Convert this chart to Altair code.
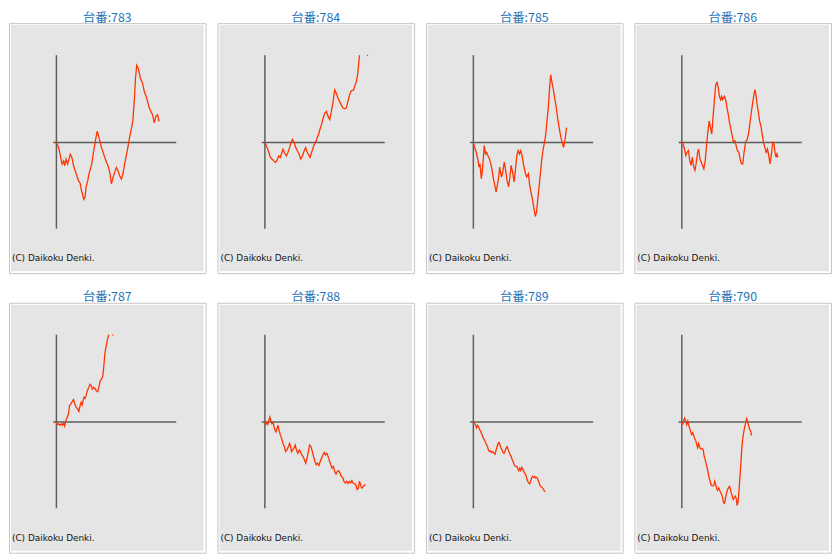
import altair as alt
import pandas as pd

# ---- data: one line per machine (x = progress, y = ball difference) ----
PANELS = ["783", "784", "785", "786", "787", "788", "789", "790"]

X_783 = [0, 2.3, 4, 5.7, 7.3, 8.3, 9.7, 11.3, 12.3, 14, 15.7, 17.3, 19, 20.7, 22.3, 24, 25, 26.3, 27.7, 29, 30, 31.7, 33, 34.3, 35.7, 36.7, 38.3, 40, 41.3, 42.3, 44, 45.7, 47.3, 49, 50.7, 52.3, 54, 55.7, 57.3, 59, 60.7, 62.3, 64, 65.7, 67.3, 69, 70.7, 72.3, 74, 75.7, 77.3, 79, 80, 81.3, 83, 85, 87.3, 89, 91, 92.3, 94, 95.7, 97.3, 99, 100.7, 102.3, 104]
Y_783 = [0, -5.3, -13.7, -22, -18.7, -23.7, -17, -22, -18.7, -12, -15.3, -23.7, -28.7, -33.7, -38.7, -41.3, -47, -52, -57.7, -55.3, -45.3, -38.7, -32, -27, -22, -15.3, -5.3, 4.7, 11.3, 8, 1.3, -5.3, -10.3, -15.3, -20.3, -23.7, -30.3, -42, -35.3, -30.3, -25.3, -28.7, -33.7, -37, -32, -22, -13.7, -5.3, 4.7, 13, 21.3, 44.7, 64.7, 78, 74.7, 64.7, 59.7, 51.3, 46.3, 41.3, 34.7, 31.3, 28, 19.7, 26.3, 28, 21.3]

X_784 = [0, 2.3, 4, 5.7, 7.3, 9, 10.7, 12.3, 14, 15.7, 16.7, 18.3, 19.7, 21.7, 23.3, 25, 26.3, 28, 29.7, 31.3, 33, 34.7, 36.3, 38, 39.7, 41.3, 42.3, 44, 45.7, 46.7, 48.3, 50, 51.7, 53, 54.3, 55.7, 57.3, 59, 60.7, 62.3, 64, 65.7, 67.3, 69, 70.7, 72.3, 74, 75.7, 77.3, 79, 80.7, 82.3, 84, 85.7, 87.3, 89.7, 91.3, 92.7, 94, 95, 95.7]
Y_784 = [0, -5.3, -10.3, -15.3, -17, -18.7, -20.3, -18, -13.7, -15.3, -12, -7, -10.3, -13.7, -10.3, -5.3, -0.3, 3, -0.3, -5.3, -8.7, -12, -17, -13.7, -8.7, -5.3, -8.7, -12, -15.3, -12, -7, -2, 1.3, 4.7, 8, 13, 18, 24.7, 29.7, 31.3, 26.3, 23, 31.3, 41.3, 53, 49.7, 44.7, 41.3, 38, 34.7, 34, 34.7, 41.3, 48, 52, 53, 58, 62, 69.7, 79.7, 88.3]
X_784_TAIL = [103.4, 104.4]
Y_784_TAIL = [88.3, 87.8]

X_785 = [0, 1.3, 3, 4.7, 5.7, 6.7, 8, 9, 10.3, 11, 12.3, 13.3, 14.7, 16.3, 17.7, 19, 20.3, 21.7, 23, 24.3, 25.7, 26.7, 27.7, 28.7, 30, 31.3, 32.7, 34, 35.7, 37, 38.3, 39.7, 41.3, 42.7, 44, 45.3, 46.7, 48, 49.3, 50.7, 52.3, 54, 55.7, 57, 58.3, 60, 61.3, 62.7, 64, 65.3, 66.7, 68, 69.3, 70.7, 72, 73.3, 74.7, 76, 77.3, 78.3, 79.7, 81, 82.3, 83.7, 85, 86.3, 87.7, 89, 90.3, 91.3, 92.3, 93.3, 94.3]
Y_785 = [0, -5, -10, -18.3, -25, -21.7, -36.7, -30, -13.3, -3.3, -11.7, -10, -13.3, -16.7, -21.7, -28.3, -36.7, -43.3, -50, -43.3, -35, -25, -31.7, -35, -28.3, -20, -28.3, -38.3, -45, -35, -23.3, -30, -40, -26.7, -13.3, -8.3, -11.7, -8.3, -13.3, -21.7, -30, -35, -31.7, -43.3, -50, -58.3, -66.7, -75, -70, -56.7, -43.3, -30, -16.7, -6.7, 0, 8.3, 23.3, 36.7, 56.7, 68.3, 60, 53.3, 45, 36.7, 26.7, 18.3, 10, 3.3, -1.7, -5, 0, 6.7, 15]

X_786 = [0, 1.3, 2.7, 4, 5.3, 6.7, 8, 9.3, 10.7, 12, 13.3, 14.7, 16, 17, 18.3, 19.7, 21, 22.3, 23.7, 25, 26.3, 27.7, 29, 30.3, 31.7, 33, 34.3, 35.7, 37, 38, 39.3, 40.3, 41.3, 42.3, 43.3, 44.7, 45.7, 47, 48.3, 49.7, 51, 52.3, 53.7, 55, 56.3, 57.7, 59, 60.3, 61.7, 63, 64, 65, 66.3, 67.7, 69, 70.3, 71.7, 73, 74, 75, 76, 77.3, 78.7, 80, 81.3, 82.7, 84, 85.3, 86.7, 88, 89.3, 90.7, 92, 93.3, 94.3, 95.3, 96.3, 97.3]
Y_786 = [0, -1.7, -6.7, -13.3, -10, -8.3, -18.3, -23.3, -15, -25, -28.3, -20, -10, -6.7, -16.7, -20, -23.3, -26.7, -18.3, -3.3, 10, 21.7, 15, 8.3, 26.7, 43.3, 58.3, 60.7, 55, 46.7, 43.3, 46.7, 43.3, 45, 46.7, 41.7, 35, 28.3, 20, 13.3, 6.7, 0, 1.7, -3.3, -8.3, -10, -16.7, -21.7, -21.7, -10, -3.3, 1.7, 3.3, 10, 20, 30, 40, 48.3, 53.3, 48.3, 40, 31.7, 21.7, 16.7, 8.3, 0, -5, -10, -6.7, -13.3, -21.7, -11.7, 0, -1.7, -10, -15, -11.7, -15]

X_787 = [0, 1, 2.3, 3.7, 5, 6.3, 7.3, 8.3, 9.7, 11, 12.3, 13.3, 14.7, 16, 17.3, 18.7, 20, 21.3, 22.7, 24, 25, 26, 27, 28, 29, 30, 31.3, 32.7, 34, 35.3, 36.3, 37.7, 39, 40.3, 41.7, 43, 44.3, 45.7, 47, 48, 49, 50, 51, 52, 53]
Y_787 = [0, -2.7, -2, -3.3, -1.7, -3.3, -0.7, -4, 1.7, 5, 8.3, 16.7, 18.3, 20.7, 22.7, 18.3, 15, 13.3, 10.7, 16.7, 20, 17.3, 21.7, 25, 24, 26.7, 31.7, 35, 38.3, 36.7, 33.3, 35, 34, 31.7, 30.7, 35, 41.7, 43.3, 46.7, 56.7, 68.3, 75, 80, 85, 88.3]
X_787_TAIL = [56.5, 57.5]
Y_787_TAIL = [88.3, 87.8]

X_788 = [0, 1, 2, 3, 4, 5, 6, 7, 8.3, 9.3, 10.3, 11.3, 12.3, 13.3, 14.3, 15.7, 17, 18.3, 19.7, 21, 22.3, 23.7, 25, 26, 27, 28, 29.3, 30.7, 32, 33.3, 34.7, 36, 37.3, 38.7, 40, 41.3, 42.7, 44, 45.3, 46.7, 48, 49.3, 50.7, 52, 53.3, 54.7, 56, 57.3, 58.7, 60, 61.3, 62.7, 64, 65.3, 66.7, 68, 69.3, 70.7, 72, 73.3, 74.7, 76, 77.3, 78.7, 80, 81.3, 82.7, 84, 85.3, 86.7, 88, 89.3, 90.7, 92, 93.3, 94.7, 95.7, 96.7, 97.7, 98.7, 99.7, 101, 102]
Y_788 = [0, -2.3, -0.7, -2.3, 1.7, 5, 1.7, -1.7, -0.7, -5, -8.3, -10, -6.7, -3.3, -8.3, -13.3, -16.7, -21.7, -25, -30, -28.3, -25, -21.7, -25, -30, -28.3, -26.7, -23.3, -28.3, -31.7, -28.3, -30, -33.3, -35, -38.3, -41.7, -36.7, -30, -23.3, -25, -30, -35, -40, -43.3, -41.7, -44, -40, -36.7, -33.3, -30.7, -33.3, -31.7, -35, -39.3, -43.3, -46.7, -45, -50, -52.7, -50, -49.3, -51.7, -55, -56, -60, -61.7, -60, -62.3, -60, -61.7, -59.3, -61.7, -62.7, -63.3, -68.3, -66.7, -60, -62.7, -66.7, -66.7, -65, -64, -63.3]

X_789 = [0, 1.3, 2.3, 3.3, 4.3, 5.3, 6.3, 7.3, 8.3, 9.3, 10.3, 11.3, 12.3, 13.3, 14.3, 15.3, 16.3, 17.3, 18.3, 19.7, 21, 22, 23, 24, 25, 26, 27, 28, 29, 30, 31, 32, 33, 34.3, 35.3, 36.3, 37.3, 38.3, 39.3, 40.3, 41.3, 42.7, 44, 45, 46, 47, 48, 49, 50, 51, 52, 53, 54, 55, 56, 57, 58, 59, 60, 61, 62, 63, 64, 65, 66, 67, 68, 69, 70, 71, 72, 72.7]
Y_789 = [0, -1.7, -3.3, -6, -3.3, -5, -7.3, -9.3, -11.7, -14, -16.7, -18.3, -20.7, -22.7, -25, -28.3, -30, -29.3, -31, -30, -31.7, -32.7, -28.3, -25, -21.7, -20.7, -23.3, -26, -28.3, -30.7, -31.7, -29.3, -26.7, -25, -28.3, -30.7, -33.3, -35, -38.3, -40, -43.3, -45, -45, -47.3, -49.3, -46.7, -49, -46, -47.3, -50, -51.7, -53.3, -56.7, -60, -61.7, -62.7, -60, -56.7, -55, -56, -55, -56.7, -56, -57.3, -60, -62.7, -65, -65.7, -66.7, -68.3, -70, -70.7]

X_790 = [0, 1, 2, 3, 4, 5, 6, 7, 8, 9, 10, 11, 12, 13, 14, 15, 16, 17, 18, 19, 20.3, 21.7, 22.7, 23.7, 24.7, 25.7, 26.7, 27.7, 28.7, 29.7, 31, 32.3, 33.3, 34.3, 35.3, 36.3, 37.3, 38.3, 39.3, 40.3, 41.3, 42.3, 43.3, 44.3, 45.3, 46.3, 47.3, 48.3, 49, 50, 51, 52, 53, 54, 55, 56, 57, 57.7, 58.3, 59, 59.7, 60.3, 61, 61.7, 62.7, 63.7, 64.7, 65.7, 66.7, 67.7, 68.7, 69.7, 70.3, 71]
Y_790 = [0, -1.7, 1.7, 4, 0.7, -2.7, 0.7, -3.3, -6.7, -10, -12.7, -10.7, -13.3, -16.7, -18.3, -22.7, -26, -21.7, -25, -27.3, -26.7, -28.3, -35, -38.3, -42.7, -46.7, -51.7, -56.7, -60, -64, -64.7, -64.3, -60, -63.3, -67.3, -69.3, -66.7, -68.7, -71.7, -73.3, -76.7, -81.7, -82.3, -76.7, -71.7, -68.3, -66.7, -65, -67.3, -71.7, -75, -78.3, -76.7, -75, -77.3, -84.7, -80, -71.7, -63.3, -53.3, -43.3, -33.3, -23.3, -16.7, -10, -5, -0.7, 3.3, 0, -4, -7.3, -9.3, -12.7, -11.7]

SERIES = {
    "783": [(X_783, Y_783)],
    "784": [(X_784, Y_784), (X_784_TAIL, Y_784_TAIL)],
    "785": [(X_785, Y_785)],
    "786": [(X_786, Y_786)],
    "787": [(X_787, Y_787), (X_787_TAIL, Y_787_TAIL)],
    "788": [(X_788, Y_788)],
    "789": [(X_789, Y_789)],
    "790": [(X_790, Y_790)],
}

# graph frame extents (in data units)
AXIS_X_SPAN = [-3.3, 121.3]
AXIS_Y_SPAN = [-87.3, 88.3]
X_DOMAIN = [-48, 151]
Y_DOMAIN = [-132.3, 120.7]
COPYRIGHT = "(C) Daikoku Denki."
TITLE_PREFIX = "台番:"

W, H = 199, 253
LINE_COLOR = "#ff3300"
AXIS_COLOR = "#5e5e5e"
PANEL_FILL = "#e5e5e5"
TITLE_COLOR = "#1f73b7"

xs = alt.Scale(domain=X_DOMAIN, nice=False, zero=False)
ys = alt.Scale(domain=Y_DOMAIN, nice=False, zero=False)


def panel(code):
    rows = []
    for seg, (xv, yv) in enumerate(SERIES[code]):
        for a, b in zip(xv, yv):
            rows.append({"x": a, "y": b, "seg": seg})
    df = pd.DataFrame(rows)
    one = pd.DataFrame({"k": [0]})

    inner = alt.Chart(one).mark_rect(color=PANEL_FILL).encode(
        x=alt.value(2), x2=alt.value(W - 2), y=alt.value(2), y2=alt.value(H - 2)
    )
    vrule = alt.Chart(pd.DataFrame({"x": [0], "y": [AXIS_Y_SPAN[0]], "y2": [AXIS_Y_SPAN[1]]})).mark_rule(
        color=AXIS_COLOR, strokeWidth=1.5
    ).encode(
        x=alt.X("x:Q", scale=xs, axis=None),
        y=alt.Y("y:Q", scale=ys, axis=None),
        y2="y2:Q",
    )
    hrule = alt.Chart(pd.DataFrame({"y": [0], "x": [AXIS_X_SPAN[0]], "x2": [AXIS_X_SPAN[1]]})).mark_rule(
        color=AXIS_COLOR, strokeWidth=1.5
    ).encode(
        x=alt.X("x:Q", scale=xs, axis=None),
        x2="x2:Q",
        y=alt.Y("y:Q", scale=ys, axis=None),
    )
    line = alt.Chart(df).mark_line(color=LINE_COLOR, strokeWidth=1.3).encode(
        x=alt.X("x:Q", scale=xs, axis=None),
        y=alt.Y("y:Q", scale=ys, axis=None),
        detail="seg:N",
        order="x:Q",
    )
    text = alt.Chart(one).mark_text(
        text=COPYRIGHT, align="left", baseline="middle", fontSize=9,
        font="DejaVu Sans", color="#111111"
    ).encode(x=alt.value(3), y=alt.value(238))

    return alt.layer(inner, vrule, hrule, line, text).properties(
        width=W,
        height=H,
        title=alt.TitleParams(
            text=TITLE_PREFIX + code, fontSize=12.5, fontWeight="normal",
            color=TITLE_COLOR, font="Noto Sans CJK JP", offset=-1, anchor="middle",
        ),
    )


row1 = alt.hconcat(*[panel(c) for c in PANELS[:4]], spacing=10)
row2 = alt.hconcat(*[panel(c) for c in PANELS[4:]], spacing=10)
chart = alt.vconcat(row1, row2, spacing=17).properties(
    padding=0, background="white"
).configure_view(
    stroke="#c4c4c4", strokeWidth=1, fill="white"
)

chart.save("out.html", embed_options={"renderer": "svg", "actions": False})
